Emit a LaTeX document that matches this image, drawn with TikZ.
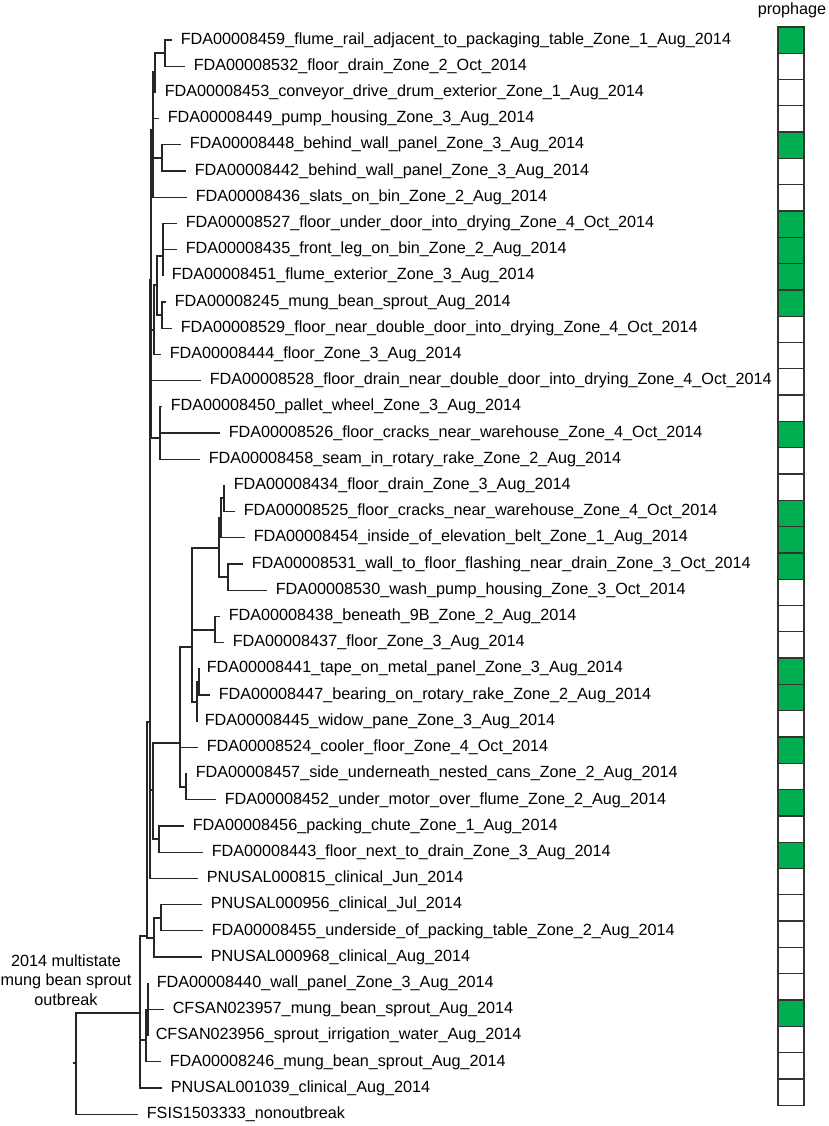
\documentclass[tikz,border=0pt]{standalone}
\usepackage{fontspec}
\setmainfont{Liberation Sans}
\usetikzlibrary{positioning}

\definecolor{pgreen}{RGB}{0,176,80}
\tikzset{
  leaf/.style={anchor=west, inner xsep=4.2pt, inner ysep=1pt, font=\fontsize{8.1}{9.75}\selectfont},
  branch/.style={draw=black!85, line width=0.6pt},
  wbox/.style={draw=black!80, line width=0.65pt, minimum width=13pt, minimum height=13.15pt, inner sep=0pt},
  gbox/.style={wbox, fill=pgreen}
}

\begin{document}
\begin{tikzpicture}[x=0.5pt, y=-0.5pt, node distance=13.15pt]
  \useasboundingbox (0,0) rectangle (829,1126);

  % Hojas
  \node[leaf] (f8459) at (172,40.0) {FDA00008459\_flume\_rail\_adjacent\_to\_packaging\_table\_Zone\_1\_Aug\_2014};
  \node[leaf] (f8532) at (185,66.2) {FDA00008532\_floor\_drain\_Zone\_2\_Oct\_2014};
  \node[leaf] (f8453) at (156,92.4) {FDA00008453\_conveyor\_drive\_drum\_exterior\_Zone\_1\_Aug\_2014};
  \node[leaf] (f8449) at (159,118.6) {FDA00008449\_pump\_housing\_Zone\_3\_Aug\_2014};
  \node[leaf] (f8448) at (181,144.8) {FDA00008448\_behind\_wall\_panel\_Zone\_3\_Aug\_2014};
  \node[leaf] (f8442) at (186,171.0) {FDA00008442\_behind\_wall\_panel\_Zone\_3\_Aug\_2014};
  \node[leaf] (f8436) at (187,197.2) {FDA00008436\_slats\_on\_bin\_Zone\_2\_Aug\_2014};
  \node[leaf] (f8527) at (177,223.4) {FDA00008527\_floor\_under\_door\_into\_drying\_Zone\_4\_Oct\_2014};
  \node[leaf] (f8435) at (177,249.6) {FDA00008435\_front\_leg\_on\_bin\_Zone\_2\_Aug\_2014};
  \node[leaf] (f8451) at (163,275.8) {FDA00008451\_flume\_exterior\_Zone\_3\_Aug\_2014};
  \node[leaf] (f8245) at (166,302.0) {FDA00008245\_mung\_bean\_sprout\_Aug\_2014};
  \node[leaf] (f8529) at (172,328.2) {FDA00008529\_floor\_near\_double\_door\_into\_drying\_Zone\_4\_Oct\_2014};
  \node[leaf] (f8444) at (161,354.4) {FDA00008444\_floor\_Zone\_3\_Aug\_2014};
  \node[leaf] (f8528) at (201,380.6) {FDA00008528\_floor\_drain\_near\_double\_door\_into\_drying\_Zone\_4\_Oct\_2014};
  \node[leaf] (f8450) at (162,406.8) {FDA00008450\_pallet\_wheel\_Zone\_3\_Aug\_2014};
  \node[leaf] (f8526) at (220,433.0) {FDA00008526\_floor\_cracks\_near\_warehouse\_Zone\_4\_Oct\_2014};
  \node[leaf] (f8458) at (200,459.2) {FDA00008458\_seam\_in\_rotary\_rake\_Zone\_2\_Aug\_2014};
  \node[leaf] (f8434) at (225,485.4) {FDA00008434\_floor\_drain\_Zone\_3\_Aug\_2014};
  \node[leaf] (f8525) at (235,511.6) {FDA00008525\_floor\_cracks\_near\_warehouse\_Zone\_4\_Oct\_2014};
  \node[leaf] (f8454) at (245,537.8) {FDA00008454\_inside\_of\_elevation\_belt\_Zone\_1\_Aug\_2014};
  \node[leaf] (f8531) at (243,564.0) {FDA00008531\_wall\_to\_floor\_flashing\_near\_drain\_Zone\_3\_Oct\_2014};
  \node[leaf] (f8530) at (267,590.2) {FDA00008530\_wash\_pump\_housing\_Zone\_3\_Oct\_2014};
  \node[leaf] (f8438) at (220,616.4) {FDA00008438\_beneath\_9B\_Zone\_2\_Aug\_2014};
  \node[leaf] (f8437) at (224,642.6) {FDA00008437\_floor\_Zone\_3\_Aug\_2014};
  \node[leaf] (f8441) at (198,668.8) {FDA00008441\_tape\_on\_metal\_panel\_Zone\_3\_Aug\_2014};
  \node[leaf] (f8447) at (210,695.0) {FDA00008447\_bearing\_on\_rotary\_rake\_Zone\_2\_Aug\_2014};
  \node[leaf] (f8445) at (196,721.2) {FDA00008445\_widow\_pane\_Zone\_3\_Aug\_2014};
  \node[leaf] (f8524) at (198,747.4) {FDA00008524\_cooler\_floor\_Zone\_4\_Oct\_2014};
  \node[leaf] (f8457) at (187,773.6) {FDA00008457\_side\_underneath\_nested\_cans\_Zone\_2\_Aug\_2014};
  \node[leaf] (f8452) at (216,799.8) {FDA00008452\_under\_motor\_over\_flume\_Zone\_2\_Aug\_2014};
  \node[leaf] (f8456) at (184,826.0) {FDA00008456\_packing\_chute\_Zone\_1\_Aug\_2014};
  \node[leaf] (f8443) at (203,852.2) {FDA00008443\_floor\_next\_to\_drain\_Zone\_3\_Aug\_2014};
  \node[leaf] (p815) at (198,878.4) {PNUSAL000815\_clinical\_Jun\_2014};
  \node[leaf] (p956) at (202,904.6) {PNUSAL000956\_clinical\_Jul\_2014};
  \node[leaf] (f8455) at (203,930.8) {FDA00008455\_underside\_of\_packing\_table\_Zone\_2\_Aug\_2014};
  \node[leaf] (p968) at (202,957.0) {PNUSAL000968\_clinical\_Aug\_2014};
  \node[leaf] (f8440) at (148,983.2) {FDA00008440\_wall\_panel\_Zone\_3\_Aug\_2014};
  \node[leaf] (c23957) at (164,1009.4) {CFSAN023957\_mung\_bean\_sprout\_Aug\_2014};
  \node[leaf] (c23956) at (147,1035.6) {CFSAN023956\_sprout\_irrigation\_water\_Aug\_2014};
  \node[leaf] (f8246) at (161,1061.8) {FDA00008246\_mung\_bean\_sprout\_Aug\_2014};
  \node[leaf] (p1039) at (162,1088.0) {PNUSAL001039\_clinical\_Aug\_2014};
  \node[leaf] (fsis) at (138,1114.2) {FSIS1503333\_nonoutbreak};

  % Nodos internos
  \coordinate (n12) at (165,53);
  \coordinate (n123) at (155,72);
  \coordinate (n56) at (162,158);
  \coordinate (n1to7) at (153,130);
  \coordinate (n8910) at (163,256);
  \coordinate (n1112) at (162,315);
  \coordinate (n8to12) at (157,285);
  \coordinate (n8to13) at (154,330);
  \coordinate (n151617) at (160,438);
  \coordinate (top) at (151,280);
  \coordinate (n1819) at (224,498);
  \coordinate (n1820) at (221,518);
  \coordinate (n2122) at (228,577);
  \coordinate (n1822) at (219,548);
  \coordinate (n2324) at (215,630);
  \coordinate (n2526) at (199,682);
  \coordinate (n2527) at (197,702);
  \coordinate (n1827) at (192,647);
  \coordinate (n2930) at (186,787);
  \coordinate (n1830) at (180,743);
  \coordinate (n3132) at (159,839);
  \coordinate (mid) at (153,790);
  \coordinate (n1to33) at (150,722);
  \coordinate (n3435) at (161,918);
  \coordinate (n3436) at (154,938);
  \coordinate (n1to36) at (147,936);
  \coordinate (n3739) at (148,1010);
  \coordinate (n3740) at (146,1040);
  \coordinate (outb) at (140,1013);
  \coordinate (root) at (76,1063);
  \coordinate (stub) at (73,1063);

  % Ramas
  \draw[branch] (n12) |- (f8459.west) (n12) |- (f8532.west);
  \draw[branch] (n123) |- (n12) (n123) |- (f8453.west);
  \draw[branch] (n56) |- (f8448.west) (n56) |- (f8442.west);
  \draw[branch] (n1to7) |- (n123) (n1to7) |- (f8449.west) (n1to7) |- (n56) (n1to7) |- (f8436.west);
  \draw[branch] (n8910) |- (f8527.west) (n8910) |- (f8435.west) (n8910) |- (f8451.west);
  \draw[branch] (n1112) |- (f8245.west) (n1112) |- (f8529.west);
  \draw[branch] (n8to12) |- (n8910) (n8to12) |- (n1112);
  \draw[branch] (n8to13) |- (n8to12) (n8to13) |- (f8444.west);
  \draw[branch] (n151617) |- (f8450.west) (n151617) |- (f8526.west) (n151617) |- (f8458.west);
  \draw[branch] (top) |- (n1to7) (top) |- (n8to13) (top) |- (f8528.west) (top) |- (n151617);
  \draw[branch] (n1819) |- (f8434.west) (n1819) |- (f8525.west);
  \draw[branch] (n1820) |- (n1819) (n1820) |- (f8454.west);
  \draw[branch] (n2122) |- (f8531.west) (n2122) |- (f8530.west);
  \draw[branch] (n1822) |- (n1820) (n1822) |- (n2122);
  \draw[branch] (n2324) |- (f8438.west) (n2324) |- (f8437.west);
  \draw[branch] (n2526) |- (f8441.west) (n2526) |- (f8447.west);
  \draw[branch] (n2527) |- (n2526) (n2527) |- (f8445.west);
  \draw[branch] (n1827) |- (n1822) (n1827) |- (n2324) (n1827) |- (n2527);
  \draw[branch] (n2930) |- (f8457.west) (n2930) |- (f8452.west);
  \draw[branch] (n1830) |- (n1827) (n1830) |- (f8524.west) (n1830) |- (n2930);
  \draw[branch] (n3132) |- (f8456.west) (n3132) |- (f8443.west);
  \draw[branch] (mid) |- (n1830) (mid) |- (n3132);
  \draw[branch] (n1to33) |- (top) (n1to33) |- (mid) (n1to33) |- (p815.west);
  \draw[branch] (n3435) |- (p956.west) (n3435) |- (f8455.west);
  \draw[branch] (n3436) |- (n3435) (n3436) |- (p968.west);
  \draw[branch] (n1to36) |- (n1to33) (n1to36) |- (n3436);
  \draw[branch] (n3739) |- (f8440.west) (n3739) |- (c23957.west) (n3739) |- (c23956.west);
  \draw[branch] (n3740) |- (n3739) (n3740) |- (f8246.west);
  \draw[branch] (outb) |- (n1to36) (outb) |- (n3740) (outb) |- (p1039.west);
  \draw[branch] (root) |- (outb) (root) |- (fsis.west);
  \draw[branch] (root) -- (stub);

  \node[align=center, font=\fontsize{8.1}{9.75}\selectfont] (label) at (66,980) {2014 multistate\\mung bean sprout\\outbreak};

  % Profago
  \node[font=\fontsize{8.1}{9.75}\selectfont, anchor=base] (title) at (792,14) {prophage};
  \node[gbox] (b1) at (791,40) {};
  \node[wbox] (b2) [below of=b1] {};
  \node[wbox] (b3) [below of=b2] {};
  \node[wbox] (b4) [below of=b3] {};
  \node[gbox] (b5) [below of=b4] {};
  \node[wbox] (b6) [below of=b5] {};
  \node[wbox] (b7) [below of=b6] {};
  \node[gbox] (b8) [below of=b7] {};
  \node[gbox] (b9) [below of=b8] {};
  \node[gbox] (b10) [below of=b9] {};
  \node[gbox] (b11) [below of=b10] {};
  \node[wbox] (b12) [below of=b11] {};
  \node[wbox] (b13) [below of=b12] {};
  \node[wbox] (b14) [below of=b13] {};
  \node[wbox] (b15) [below of=b14] {};
  \node[gbox] (b16) [below of=b15] {};
  \node[wbox] (b17) [below of=b16] {};
  \node[wbox] (b18) [below of=b17] {};
  \node[gbox] (b19) [below of=b18] {};
  \node[gbox] (b20) [below of=b19] {};
  \node[gbox] (b21) [below of=b20] {};
  \node[wbox] (b22) [below of=b21] {};
  \node[wbox] (b23) [below of=b22] {};
  \node[wbox] (b24) [below of=b23] {};
  \node[gbox] (b25) [below of=b24] {};
  \node[gbox] (b26) [below of=b25] {};
  \node[wbox] (b27) [below of=b26] {};
  \node[gbox] (b28) [below of=b27] {};
  \node[wbox] (b29) [below of=b28] {};
  \node[gbox] (b30) [below of=b29] {};
  \node[wbox] (b31) [below of=b30] {};
  \node[gbox] (b32) [below of=b31] {};
  \node[wbox] (b33) [below of=b32] {};
  \node[wbox] (b34) [below of=b33] {};
  \node[wbox] (b35) [below of=b34] {};
  \node[wbox] (b36) [below of=b35] {};
  \node[wbox] (b37) [below of=b36] {};
  \node[gbox] (b38) [below of=b37] {};
  \node[wbox] (b39) [below of=b38] {};
  \node[wbox] (b40) [below of=b39] {};
  \node[wbox] (b41) [below of=b40] {};
\end{tikzpicture}
\end{document}
